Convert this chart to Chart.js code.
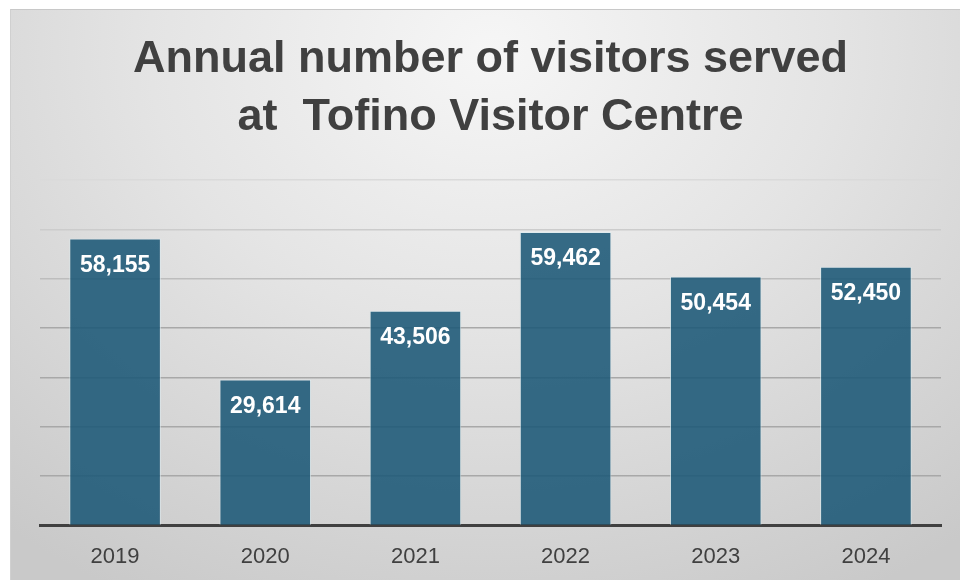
<!DOCTYPE html>
<html>
<head>
<meta charset="utf-8">
<script src="https://cdn.jsdelivr.net/npm/chart.js@4"></script>
<style>
  html, body { margin: 0; padding: 0; background: #fff; }
  #wrap {
    position: absolute; left: 10px; top: 9px; width: 950px; height: 571px;
    border-top: 1px solid #c8c8c8; border-left: 1px solid #d0d0d0;
    box-sizing: border-box;
    background: radial-gradient(ellipse 760px 620px at 480px 40px, #f6f6f6 0%, #e4e4e4 45%, #c9c9c9 100%);
  }
  #chart { position: absolute; left: 0; top: 0; }
</style>
</head>
<body>
<div id="wrap"><canvas id="chart" width="949" height="570"></canvas></div>
<script>
// Data
const years = ['2019', '2020', '2021', '2022', '2023', '2024'];
const visitors = [58155, 29614, 43506, 59462, 50454, 52450];
const titleLines = ['Annual number of visitors served', 'at  Tofino Visitor Centre'];

const ctx = document.getElementById('chart').getContext('2d');

// Labels inside the top of each bar
const barLabels = {
    id: 'barLabels',
    afterDatasetsDraw(chart) {
        const c = chart.ctx;
        const meta = chart.getDatasetMeta(0);
        c.save();
        c.fillStyle = '#ffffff';
        c.font = 'bold 23px "Liberation Sans", Arial, sans-serif';
        c.textAlign = 'center';
        c.textBaseline = 'middle';
        meta.data.forEach((bar, i) => {
            c.fillText(visitors[i].toLocaleString('en-US'), bar.x, bar.y + 27);
        });
        c.restore();
    }
};

new Chart(ctx, {
    type: 'bar',
    data: {
        labels: years,
        datasets: [{
            data: visitors,
            backgroundColor: 'rgba(27, 88, 118, 0.88)',
            borderColor: 'rgba(220, 235, 240, 0.7)',
            borderWidth: 1,
            barPercentage: 0.61,
            categoryPercentage: 1
        }]
    },
    options: {
        responsive: false,
        animation: false,
        layout: { padding: { left: 29, right: 19, top: 21, bottom: 0 } },
        plugins: {
            legend: { display: false },
            tooltip: { enabled: false },
            title: {
                display: true,
                text: titleLines,
                color: '#404040',
                font: { family: '"Liberation Sans", Arial, sans-serif', size: 45, weight: 'bold', lineHeight: 1.29 },
                padding: { top: 0, bottom: 33 }
            }
        },
        scales: {
            x: {
                grid: { display: false },
                border: { display: true, color: '#404040', width: 3 },
                ticks: { color: '#404040', font: { family: '"Liberation Sans", Arial, sans-serif', size: 22 }, padding: 10 }
            },
            y: {
                min: 0,
                max: 70000,
                ticks: { stepSize: 10000, display: false },
                border: { display: false },
                grid: {
                    drawTicks: false,
                    lineWidth: 1.5,
                    color: (context) => {
                        const v = context.tick ? context.tick.value : 0;
                        if (v >= 70000) return '#dadada';
                        if (v >= 60000) return '#cccccc';
                        if (v >= 50000) return '#bdbdbd';
                        return '#a8a8a8';
                    }
                }
            }
        }
    },
    plugins: [barLabels]
});
</script>
</body>
</html>
